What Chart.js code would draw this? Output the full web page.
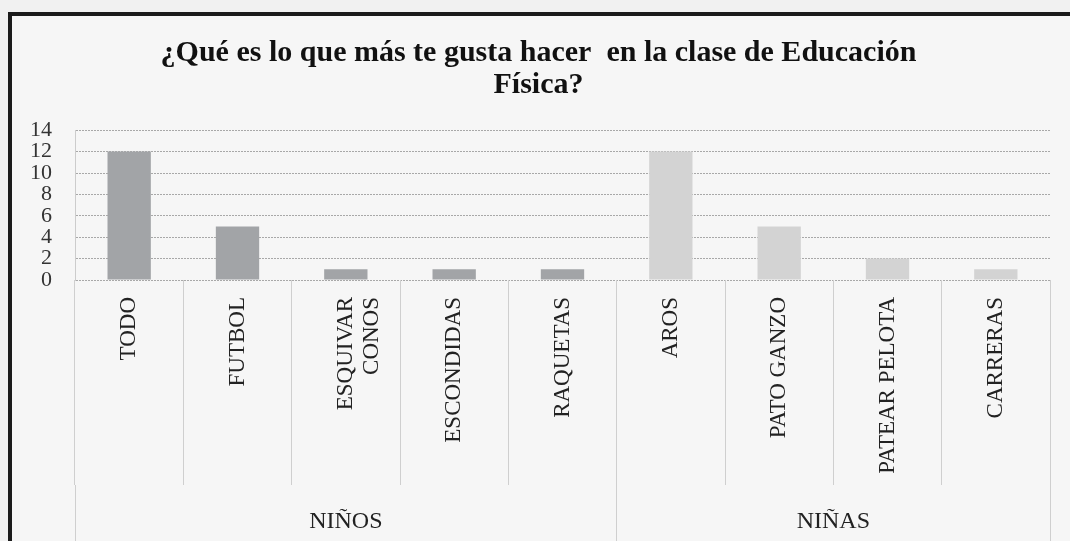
<!DOCTYPE html>
<html>
<head>
<meta charset="utf-8">
<script src="https://cdn.jsdelivr.net/npm/chart.js@4"></script>
<style>
  html, body { margin: 0; padding: 0; background: #f1f1f1; overflow: hidden; }
  #frame {
    position: absolute; left: 8px; top: 12px; right: 0; bottom: 0;
    border-left: 4px solid #1b1b1b; border-top: 4px solid #1b1b1b;
    background: #f6f6f6;
  }
  #c { display: block; }
</style>
</head>
<body>
<div id="frame">
  <canvas id="c" width="1058" height="525"></canvas>
</div>
<script>
// data
const categories = ['TODO', 'FUTBOL', ['ESQUIVAR', 'CONOS'], 'ESCONDIDAS', 'RAQUETAS',
                    'AROS', 'PATO GANZO', 'PATEAR PELOTA', 'CARRERAS'];
const values = [12, 5, 1, 1, 1, 12, 5, 2, 1];
const groupLabels = ['NIÑOS', 'NIÑAS'];
const groupSizes = [5, 4];
const yTicks = [0, 2, 4, 6, 8, 10, 12, 14];
const titleLines = ['¿Qué es lo que más te gusta hacer  en la clase de Educación', 'Física?'];

const groupColors = ['#a2a4a7', '#d3d3d3'];

// per-bar colour by group, group boundaries and centres in category units
const barColors = [];
const groupTicks = [];
let start = 0;
groupSizes.forEach((n, g) => {
    for (let i = 0; i < n; i++) barColors.push(groupColors[g]);
    groupTicks.push({ value: start - 0.5 });
    groupTicks.push({ value: start + (n - 1) / 2, label: groupLabels[g] });
    start += n;
});
groupTicks.push({ value: start - 0.5 });

const serif = "'Liberation Serif', 'Times New Roman', serif";

const ctx = document.getElementById('c').getContext('2d');
const chart = new Chart(ctx, {
    type: 'bar',
    data: {
        labels: categories,
        datasets: [{
            data: values,
            backgroundColor: barColors,
            categoryPercentage: 1,
            barPercentage: 0.4
        }]
    },
    options: {
        responsive: false,
        animation: false,
        layout: { padding: { left: 15, right: 20, top: 0, bottom: 0 } },
        plugins: {
            legend: { display: false },
            tooltip: { enabled: false },
            title: {
                display: true,
                text: titleLines,
                color: '#111',
                font: { family: serif, size: 30, weight: 'bold', lineHeight: 1.07 },
                padding: { top: 21, bottom: 29 }
            }
        },
        scales: {
            y: {
                min: 0,
                max: 14,
                afterBuildTicks: axis => { axis.ticks = yTicks.map(v => ({ value: v })); },
                afterFit: axis => { axis.width = 48; },
                ticks: {
                    autoSkip: false,
                    padding: 23,
                    color: '#333',
                    font: { family: serif, size: 22, lineHeight: 1 }
                },
                grid: { color: '#a8a8a8', drawTicks: false },
                border: { display: true, color: '#cccccc', dash: [2, 1] }
            },
            x: {
                weight: 0,
                afterFit: axis => { axis.height = 205; },
                ticks: {
                    autoSkip: false,
                    minRotation: 90,
                    maxRotation: 90,
                    padding: -188,
                    color: '#222',
                    font: { family: serif, size: 23, lineHeight: 1.15 }
                },
                grid: {
                    offset: true,
                    drawOnChartArea: false,
                    drawTicks: true,
                    tickLength: 205,
                    tickColor: '#cfcfcf'
                },
                border: { display: false }
            },
            grp: {
                type: 'linear',
                axis: 'x',
                position: 'bottom',
                weight: 1,
                offset: false,
                min: -0.5,
                max: 8.5,
                afterBuildTicks: axis => { axis.ticks = groupTicks.map(t => ({ value: t.value })); },
                afterFit: axis => { axis.height = 56; },
                ticks: {
                    autoSkip: false,
                    maxRotation: 0,
                    padding: -34,
                    color: '#222',
                    font: { family: serif, size: 24 },
                    callback: v => {
                        const t = groupTicks.find(g => g.value === v);
                        return t && t.label ? t.label : '';
                    }
                },
                grid: {
                    offset: false,
                    drawOnChartArea: false,
                    drawTicks: true,
                    tickLength: 56,
                    tickColor: c => {
                        const t = groupTicks.find(g => g.value === (c.tick && c.tick.value));
                        return t && t.label ? 'rgba(0,0,0,0)' : '#cfcfcf';
                    }
                },
                border: { display: false }
            }
        }
    }
});
</script>
</body>
</html>
